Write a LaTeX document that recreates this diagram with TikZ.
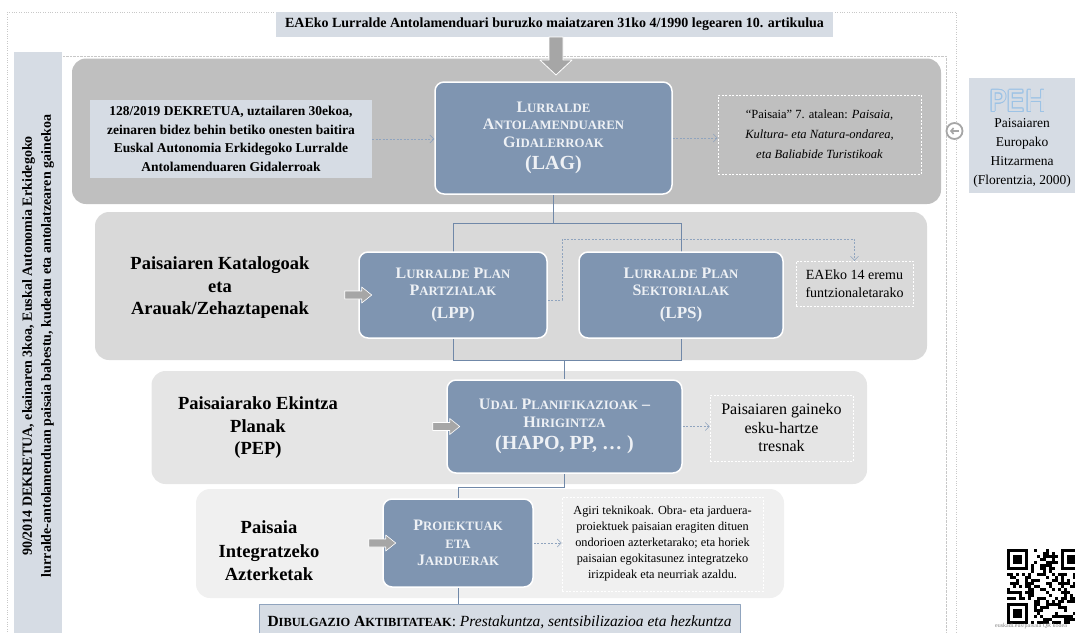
\documentclass[tikz,border=0pt]{standalone}
\usepackage{fontspec}
\setmainfont{Liberation Serif}
\newfontfamily\pehfont{DejaVu Sans}
\usetikzlibrary{arrows.meta,calc}
\definecolor{slate}{HTML}{7F95B1}
\definecolor{slatetext}{HTML}{EEF1F5}
\definecolor{lightblue}{HTML}{D6DCE4}
\definecolor{panelA}{HTML}{BFBFBF}
\definecolor{panelB}{HTML}{D9D9D9}
\definecolor{panelC}{HTML}{E5E5E5}
\definecolor{panelD}{HTML}{F0F0F0}
\definecolor{arrowgray}{HTML}{A6A6A6}
\definecolor{linkblue}{HTML}{90A4BE}
\definecolor{treeblue}{HTML}{7088A8}
\definecolor{framegray}{HTML}{C8C8C8}
\definecolor{pehblue}{HTML}{9DC3E6}
\makeatletter
\newcommand{\sk}[1]{{\fontsize{\fpeval{0.8*\f@size}}{\f@baselineskip}\selectfont #1}}
\makeatother
\newcommand{\qrfinder}[2]{%
  \fill[white] (#1-3,#2-3) rectangle ++(27,27);
  \fill[black] (#1,#2) rectangle ++(21,21);
  \fill[white] (#1+3,#2+3) rectangle ++(15,15);
  \fill[black] (#1+6,#2+6) rectangle ++(9,9);}
\pgfdeclarelayer{back}
\pgfdeclarelayer{mid}
\pgfsetlayers{back,mid,main}
\tikzset{
  panel/.style={rounded corners=14pt},
  slatebox/.style={draw=white,line width=1.5pt,fill=slate,rounded corners=9pt,text=slatetext,
    font=\bfseries\fontsize{16}{17.5}\selectfont,align=center,inner sep=0pt},
  notebox/.style={draw=white,dash pattern=on 2pt off 1.5pt,line width=0.7pt,align=center,inner sep=0pt},
  lightbox/.style={fill=lightblue,align=center,inner sep=0pt},
  rowlabel/.style={align=center,font=\bfseries\fontsize{18.5}{22.5}\selectfont},
  dasharrow/.style={->,linkblue,dash pattern=on 2pt off 1.5pt,line width=0.6pt},
  treeline/.style={treeblue,line width=1pt},
  grayarrow/.pic={\filldraw[fill=arrowgray,draw=white,line width=0.6pt]
    (-13.5,-4) -- (3.5,-4) -- (3.5,-8) -- (13.5,0) -- (3.5,8) -- (3.5,4) -- (-13.5,4) -- cycle;},
  bigarrow/.pic={\filldraw[fill=arrowgray,draw=white,line width=0.8pt]
    (-7,-19) -- (7,-19) -- (7,4) -- (16,4) -- (0,19) -- (-16,4) -- (-7,4) -- cycle;},
}
\begin{document}
\begin{tikzpicture}[x=1pt,y=-1pt,>={Straight Barb[length=4pt,width=8pt]},line join=round]
\useasboundingbox (0,0) rectangle (1075,632);
% frames and panels
\begin{pgfonlayer}{back}
\draw[framegray,dotted] (7.5,12) rectangle (956.5,660);
\draw[framegray,densely dotted] (60,56) -- (946,56) -- (946,660);
\fill[lightblue] (14,52) rectangle (62,640);
\fill[panelA,panel] (72,58.5) rectangle (941,204);
\fill[panelB,panel] (95,212) rectangle (927,360);
\fill[panelC,panel] (151.5,371) rectangle (867,484);
\fill[panelD,panel] (196,489) rectangle (784,598);
\fill[lightblue] (969,78) rectangle (1090,193);
\end{pgfonlayer}
\node[rotate=90,align=center,font=\bfseries\fontsize{14}{19}\selectfont] (decree) at (38,346)
  {90/2014 DEKRETUA, ekainaren 3koa, Euskal Autonomia Erkidegoko\\
   lurralde-antolamenduan paisaia babestu, kudeatu eta antolatzearen gainekoa};
\node[lightbox,minimum width=557pt,minimum height=25pt,font=\bfseries\fontsize{14}{16}\selectfont] (title) at (554.5,24.5)
  {EAEko Lurralde Antolamenduari buruzko maiatzaren 31ko 4/1990 legearen 10. artikulua};
\pic at (556,56) {bigarrow};
% row 1
\node[lightbox,minimum width=282pt,minimum height=78pt,font=\bfseries\fontsize{13.5}{18.5}\selectfont] (p128) at (231,139)
  {128/2019 DEKRETUA, uztailaren 30ekoa,\\zeinaren bidez behin betiko onesten baitira\\
   Euskal Autonomia Erkidegoko Lurralde\\Antolamenduaren Gidalerroak};
\node[slatebox,minimum width=237pt,minimum height=112pt] (lag) at (553.5,138)
  {L\sk{URRALDE}\\A\sk{NTOLAMENDUAREN}\\G\sk{IDALERROAK}\\[5pt]{\fontsize{20}{22}\selectfont (LAG)}};
\node[notebox,minimum width=203pt,minimum height=79pt,font=\fontsize{12.5}{20}\selectfont] (paisaia) at (819.5,134.5)
  {“Paisaia” 7. atalean: \textit{Paisaia,}\\\textit{Kultura- eta Natura-ondarea,}\\\textit{eta Baliabide Turistikoak}};
\foreach \a in {0,30,...,330}
  \node[font=\pehfont\fontsize{29}{30}\selectfont,text=pehblue] (peh\a) at ($(1018,101)+(\a:0.9)$) {PEH};
\node[font=\pehfont\fontsize{29}{30}\selectfont,text=lightblue] (peh) at (1018,101) {PEH};
\node[align=center,font=\fontsize{13.5}{18.7}\selectfont] (pehtxt) at (1022,153)
  {Paisaiaren\\Europako\\Hitzarmena\\(Florentzia, 2000)};
\node[circle,draw=arrowgray,line width=1.8pt,fill=white,minimum size=16pt,inner sep=0pt] (pehicon) at (954.5,131) {};
\draw[arrowgray,line width=1.6pt,-{Straight Barb[length=2.5pt,width=6pt]}]
  ([xshift=4.5pt]pehicon.center) -- ([xshift=-4.5pt]pehicon.center);
\draw[dasharrow] (p128.east) -- (p128.east -| lag.west);
\draw[dasharrow] (lag.east) -- (lag.east -| paisaia.west);
% row 2
\node[rowlabel] (kat) at (220,288) {Paisaiaren Katalogoak\\eta\\Arauak/Zehaztapenak};
\node[slatebox,minimum width=188pt,minimum height=86pt] (lpp) at (453,295)
  {L\sk{URRALDE} P\sk{LAN}\\P\sk{ARTZIALAK}\\[5pt]{\fontsize{17}{19}\selectfont (LPP)}};
\node[slatebox,minimum width=204pt,minimum height=86pt] (lps) at (681,295)
  {L\sk{URRALDE} P\sk{LAN}\\S\sk{EKTORIALAK}\\[5pt]{\fontsize{17}{19}\selectfont (LPS)}};
\node[notebox,minimum width=117pt,minimum height=45pt,font=\fontsize{14}{17.5}\selectfont] (eaeko) at (854.5,283.5)
  {EAEko 14 eremu\\funtzionaletarako};
\pic at (lpp.west) {grayarrow};
\coordinate (bend) at (562,239);
\draw[dasharrow] ([yshift=-5pt]lpp.east) -| (bend) -| (eaeko.north);
% row 3
\node[rowlabel] (pep) at (258,428) {Paisaiarako Ekintza\\Planak\\(PEP)};
\node[slatebox,minimum width=235pt,minimum height=93pt] (udal) at (564.5,426.5)
  {U\sk{DAL} P\sk{LANIFIKAZIOAK} –\\H\sk{IRIGINTZA}\\[5pt]{\fontsize{20}{22}\selectfont (HAPO, PP, … )}};
\node[notebox,minimum width=143pt,minimum height=66pt,font=\fontsize{16}{18.5}\selectfont] (tresnak) at (781.5,428)
  {Paisaiaren gaineko\\esku-hartze\\tresnak};
\pic at (udal.west) {grayarrow};
\draw[dasharrow] (udal.east) -- (udal.east -| tresnak.west);
% row 4
\node[rowlabel,font=\bfseries\fontsize{18.5}{23.5}\selectfont] (pia) at (269,551) {Paisaia\\Integratzeko\\Azterketak};
\node[slatebox,minimum width=150pt,minimum height=88pt] (proj) at (458,543)
  {P\sk{ROIEKTUAK}\\\sk{ETA}\\J\sk{ARDUERAK}};
\node[notebox,minimum width=201pt,minimum height=94pt,font=\fontsize{12.3}{16}\selectfont] (agiri) at (662.5,544)
  {Agiri teknikoak. Obra- eta jarduera-\\proiektuek paisaian eragiten dituen\\ondorioen azterketarako; eta horiek\\
   paisaian egokitasunez integratzeko\\irizpideak eta neurriak azaldu.};
\pic at (proj.west) {grayarrow};
\draw[dasharrow] (proj.east) -- (proj.east -| agiri.west);
\node[lightbox,draw=linkblue,line width=0.6pt,minimum width=481pt,minimum height=36pt,font=\fontsize{15.5}{17}\selectfont] (dib) at (499.5,622)
  {\textbf{D\sk{IBULGAZIO} A\sk{KTIBITATEAK}}: \textit{Prestakuntza, sentsibilizazioa eta hezkuntza}};
% tree lines
\begin{pgfonlayer}{mid}
\coordinate (treetop) at (0,223);
\coordinate (treebot) at (0,360);
\draw[treeline] (lag.south) -- (lag.south |- treetop);
\draw[treeline] (lpp.center |- treetop) rectangle (lps.center |- treebot);
\draw[treeline] (udal.north) -- (udal.north |- treebot);
\draw[treeline] (udal.south) -- ++(0,14) -| (proj.north);
\draw[treeline] (proj.south) -- (proj.south |- dib.north);
\end{pgfonlayer}
% QR code
\pgfmathsetseed{4711}
\foreach \i in {0,...,24}{\foreach \j in {0,...,24}{
  \pgfmathtruncatemacro\q{rnd<0.5}
  \ifnum\q=1 \fill (1007+3*\i,549+3*\j) rectangle ++(3,3);\fi}}
\qrfinder{1007}{549}
\qrfinder{1061}{549}
\qrfinder{1007}{603}
\node[font=\fontsize{6}{7}\selectfont,text=gray,anchor=south] (qrurl) at (1031,632) {euskadi.eus/paisaia QR kodea};
\end{tikzpicture}
\end{document}
